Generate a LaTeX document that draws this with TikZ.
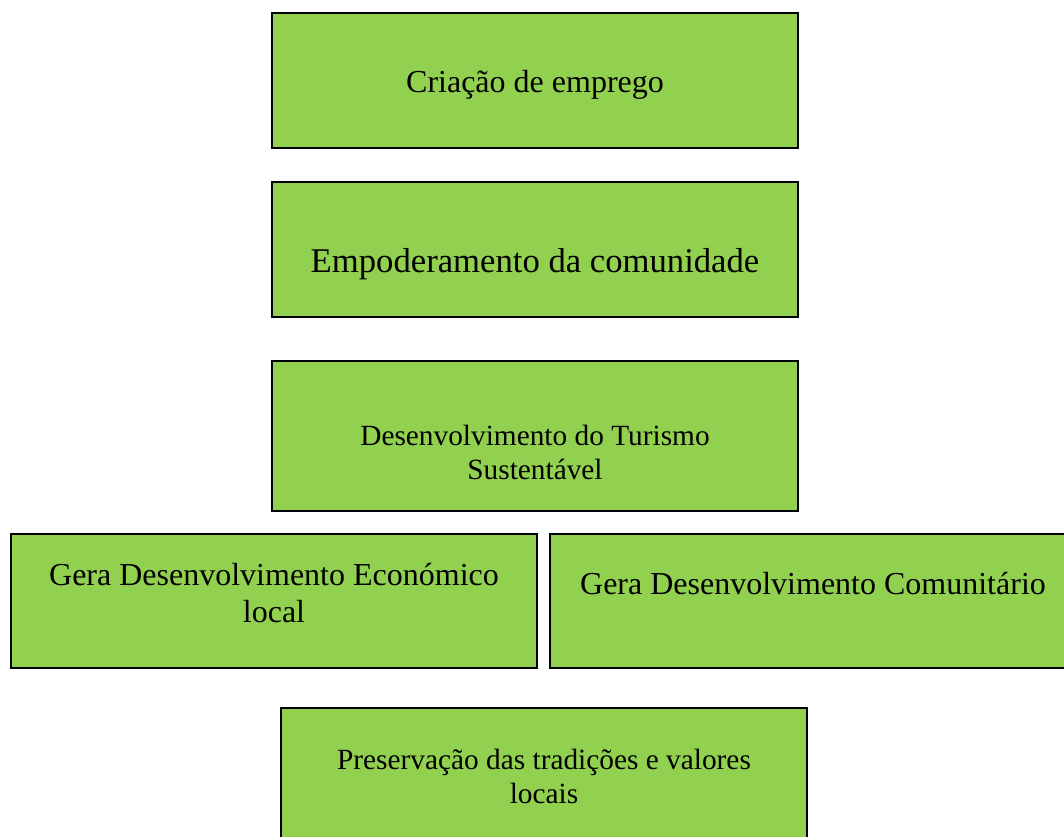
\documentclass[tikz,border=0pt]{standalone}
\usepackage{fontspec}
\setmainfont{Liberation Serif}
\usetikzlibrary{positioning}
\definecolor{verdeclaro}{RGB}{146,208,80}

\begin{document}
\begin{tikzpicture}[x=0.75pt, y=-0.75pt,
 caixa/.style={draw=black, line width=1.3pt, fill=verdeclaro, align=center,
   inner sep=0pt, minimum width=394.5pt, minimum height=#1},
 caixa/.default=101.25pt]
    % area da figura (as caixas da direita e de baixo ficam cortadas)
    \useasboundingbox (0,0) rectangle (1064,836);
    \clip (0,0) rectangle (1064,836);
    % coluna central
    \node[caixa, font=\fontsize{24}{28}\selectfont, text height=22.25pt, text depth=5pt]
        (emprego) at (535,80.5) {Criação de emprego};
    \node[caixa, font=\fontsize{26}{30}\selectfont, text height=38.75pt, text depth=5pt]
        (empoderamento) at (535,249.5) {Empoderamento da comunidade};
    \node[caixa=112.5pt, font=\fontsize{22}{25.5}\selectfont, text height=69.5pt, text depth=5pt]
        (turismo) at (535,436) {Desenvolvimento do Turismo\\Sustentável};
    % os dois efeitos lado a lado
    \node[caixa=100.5pt, font=\fontsize{24}{27.75}\selectfont, text height=36.5pt, text depth=5pt]
        (economico) at (274,601) {Gera Desenvolvimento Económico\\local};
    \node[caixa=100.5pt, font=\fontsize{24}{28}\selectfont, text height=9.5pt, text depth=20pt]
        (comunitario) at (813,601) {Gera Desenvolvimento Comunitário};
    % ultima caixa
    \node[caixa, font=\fontsize{22}{25.5}\selectfont, text height=46.25pt, text depth=5pt]
        (tradicoes) at (544,775.5) {Preservação das tradições e valores\\locais};
\end{tikzpicture}
\end{document}
